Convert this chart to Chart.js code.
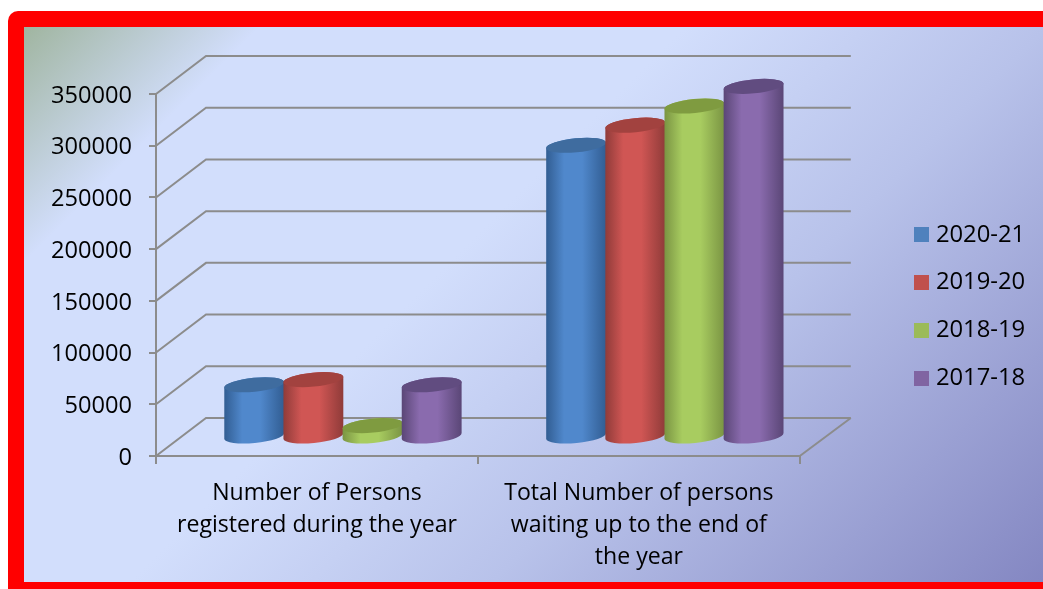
<!DOCTYPE html>
<html>
<head>
<meta charset="utf-8">
<title>Persons registered and waiting</title>
<script src="https://cdn.jsdelivr.net/npm/chart.js@4"></script>
<style>
  html, body { margin: 0; padding: 0; background: #fff; }
  canvas { display: block; }
</style>
</head>
<body>
<canvas id="chart" width="1043" height="589"></canvas>
<script>
'use strict';
const categories = [
  ['Number of Persons', 'registered during the year'],
  ['Total Number of persons', 'waiting up to the end of', 'the year']
];
const seriesLabels = ['2020-21', '2019-20', '2018-19', '2017-18'];
const values2020 = [50500, 282000];
const values2019 = [55500, 301500];
const values2018 = [11000, 320000];
const values2017 = [50500, 339000];
const seriesColors = ['#4f81bd', '#c0504d', '#9bbb59', '#8064a2'];

// colours for the cylinders: edge, middle, lid
const shades = [
  ['#315d92', '#5088cc', '#3f6c9f'],
  ['#8f3b39', '#d05654', '#a2423f'],
  ['#7a9443', '#a8cc60', '#7f9b40'],
  ['#5a4676', '#8a6bae', '#614c80']
];

const FONT = '"Open Sans", sans-serif';
const GRID = '#8c8c8c';
const DEPTH_X = 50, DEPTH_Y = 38;

// legend squares are images so the gap to the text can stay narrow
const swatches = seriesColors.map(c => {
  const el = document.createElement('canvas');
  el.width = 15;
  el.height = 15;
  const g = el.getContext('2d');
  g.fillStyle = c;
  g.fillRect(0, 0, 15, 15);
  return el;
});

const backdrop = {
  id: 'backdrop',
  beforeDraw(chart) {
    const ctx = chart.ctx;
    ctx.save();
    ctx.fillStyle = '#fff';
    ctx.fillRect(0, 0, 1043, 589);
    ctx.fillStyle = '#ff0000';
    ctx.beginPath();
    ctx.roundRect(8, 11, 1100, 640, 10);
    ctx.fill();
    const g = ctx.createLinearGradient(24, 27, 24 + 787, 27 + 787);
    g.addColorStop(0, '#a0b5a0');
    g.addColorStop(0.15, '#d2defc');
    g.addColorStop(0.42, '#d2defc');
    g.addColorStop(0.65, '#b8c2ea');
    g.addColorStop(1, '#8487c2');
    ctx.fillStyle = g;
    ctx.fillRect(24, 27, 1019, 555);
    ctx.restore();
  }
};

const cylinders = {
  id: 'cylinders',
  afterLayout(chart) {
    // legend sits further right than its slot in the layout
    const lg = chart.legend;
    const w = lg.right - lg.left;
    lg.left = 895;
    lg.right = 895 + w;
    lg.top = 199;
    lg.bottom = 589;
    // value labels sit a little under their ticks
    chart.scales.y.getLabelItems().forEach(item => {
      item.options.translation[1] += 2;
    });
  },
  beforeDatasetsDraw(chart) {
    const ctx = chart.ctx;
    const y = chart.scales.y;
    const left = chart.chartArea.left, right = chart.chartArea.right;

    // walls and floor
    ctx.save();
    ctx.strokeStyle = GRID;
    ctx.lineWidth = 2;
    y.ticks.forEach(t => {
      const py = y.getPixelForValue(t.value);
      ctx.beginPath();
      ctx.moveTo(left, py);
      ctx.lineTo(left + DEPTH_X, py - DEPTH_Y);
      ctx.lineTo(right + DEPTH_X + 1, py - DEPTH_Y);
      ctx.stroke();
    });
    const py0 = y.getPixelForValue(0);
    ctx.beginPath();
    ctx.moveTo(right, py0);
    ctx.lineTo(right + DEPTH_X + 1, py0 - DEPTH_Y);
    ctx.stroke();
    ctx.restore();

    // cylinders, later series over earlier ones
    chart.data.datasets.forEach((ds, i) => {
      chart.getDatasetMeta(i).data.forEach(bar => {
        const p = bar.getProps(['x', 'y', 'base', 'width'], true);
        drawCylinder(ctx, p, shades[i]);
      });
    });
    return false;
  }
};

function drawCylinder(ctx, p, shade) {
  const rx = p.width / 2 + 0.5;
  const ry = 7;
  const rot = -5.5 * Math.PI / 180;
  const cx = p.x + DEPTH_X / 2 + 1;
  const top = p.y - DEPTH_Y / 2;
  const bottom = p.base - DEPTH_Y / 2;
  const body = ctx.createLinearGradient(cx - rx, 0, cx + rx, 0);
  body.addColorStop(0, shade[0]);
  body.addColorStop(0.3, shade[1]);
  body.addColorStop(0.6, shade[1]);
  body.addColorStop(1, shade[0]);
  ctx.save();
  ctx.fillStyle = body;
  ctx.beginPath();
  ctx.ellipse(cx, bottom, rx, ry, rot, Math.PI, 0, true);
  ctx.ellipse(cx, top, rx, ry, rot, 0, Math.PI, true);
  ctx.closePath();
  ctx.fill();
  ctx.fillStyle = shade[2];
  ctx.beginPath();
  ctx.ellipse(cx, top, rx, ry, rot, 0, Math.PI * 2);
  ctx.fill();
  ctx.restore();
}

const allValues = [values2020, values2019, values2018, values2017];

new Chart(document.getElementById('chart'), {
  type: 'bar',
  data: {
    labels: categories,
    datasets: seriesLabels.map((label, i) => ({
      label: label,
      data: allValues[i],
      backgroundColor: seriesColors[i],
      borderWidth: 0
    }))
  },
  options: {
    responsive: false,
    animation: false,
    layout: { padding: { top: 94, left: 0, right: 103, bottom: 0 } },
    datasets: { bar: { categoryPercentage: 0.735, barPercentage: 1 } },
    plugins: {
      tooltip: { enabled: false },
      legend: {
        position: 'right',
        align: 'start',
        labels: {
          usePointStyle: true,
          boxWidth: 5,
          boxHeight: 16,
          padding: 24,
          color: '#000',
          font: { family: FONT, size: 23.8 },
          generateLabels(chart) {
            const items = Chart.defaults.plugins.legend.labels.generateLabels(chart);
            items.forEach((item, i) => { item.pointStyle = swatches[i]; });
            return items;
          }
        }
      }
    },
    scales: {
      x: {
        afterFit(s) { s.height = 133; },
        grid: { drawOnChartArea: false, color: GRID, lineWidth: 2, tickLength: 8 },
        border: { color: GRID, width: 2 },
        ticks: {
          color: '#000',
          maxRotation: 0,
          minRotation: 0,
          padding: 13,
          font: { family: FONT, size: 23.1, lineHeight: 1.39 }
        }
      },
      y: {
        min: 0,
        max: 350000,
        afterFit(s) { s.width = 156; },
        grid: { drawOnChartArea: false, color: GRID, lineWidth: 2, tickLength: 7 },
        border: { color: GRID, width: 2 },
        ticks: {
          stepSize: 50000,
          color: '#000',
          padding: 17,
          font: { family: FONT, size: 23.6 },
          callback: v => String(v)
        }
      }
    }
  },
  plugins: [backdrop, cylinders]
});
</script>
</body>
</html>
